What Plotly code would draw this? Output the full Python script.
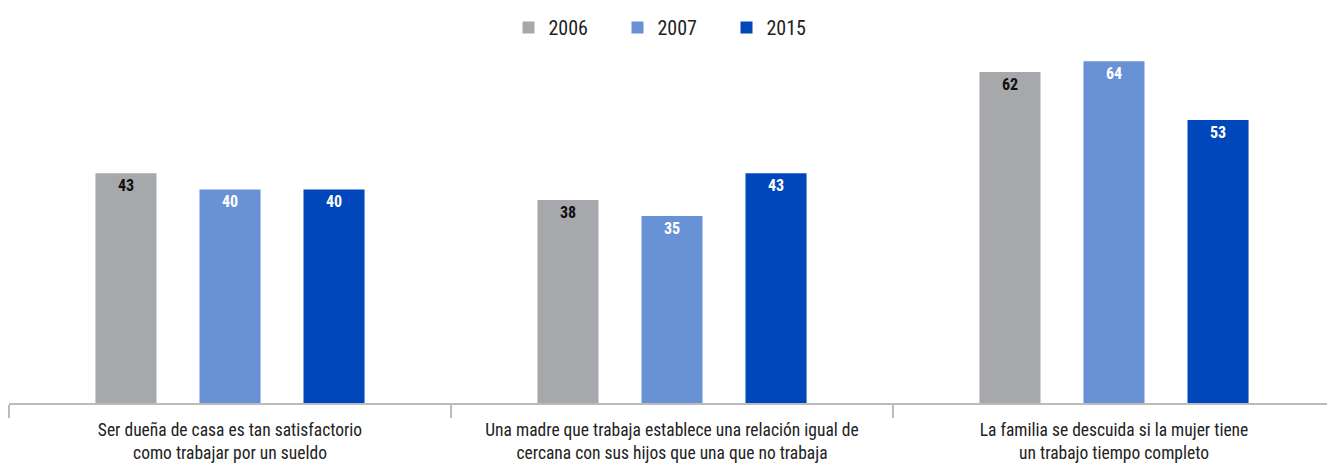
import plotly.graph_objects as go

categories = [
    "Ser dueña de casa es tan satisfactorio<br>como trabajar por un sueldo",
    "Una madre que trabaja establece una relación igual de<br>cercana con sus hijos que una que no trabaja",
    "La familia se descuida si la mujer tiene<br>un trabajo tiempo completo",
]
years = ["2006", "2007", "2015"]
v2006 = [43, 38, 62]
v2007 = [40, 35, 64]
v2015 = [40, 43, 53]

colors = ["#A7A8AC", "#6891D6", "#0047BB"]
textcolors = ["#111111", "#FFFFFF", "#FFFFFF"]
font = "Liberation Sans Narrow, Roboto Condensed, Arial Narrow, sans-serif"

fig = go.Figure()
for name, vals, c, tc in zip(years, [v2006, v2007, v2015], colors, textcolors):
    fig.add_trace(go.Bar(
        x=categories, y=vals, name=name,
        marker=dict(color=c, line=dict(width=0)),
        text=[str(v) for v in vals],
        textposition="inside", insidetextanchor="end",
        textfont=dict(family=font, size=16, color=tc, weight="bold"),
        textangle=0,
    ))

fig.update_layout(
    barmode="group", bargap=0.294, bargroupgap=0.413,
    width=1327, height=458,
    margin=dict(l=1, r=0, t=42, b=63, autoexpand=False),
    plot_bgcolor="white", paper_bgcolor="white",
    font=dict(family=font, size=18, color="#222222"),
    legend=dict(orientation="h", x=0.5, xanchor="center", y=1.0, yanchor="top",
                yref="container", font=dict(size=20, color="#222222"),
                entrywidth=64, traceorder="normal"),
    uniformtext=dict(minsize=10, mode="show"),
)
fig.update_xaxes(showline=True, linecolor="#BBBBBB", linewidth=2,
                 ticks="outside", tickson="boundaries", ticklen=13, tickcolor="#BBBBBB",
                 tickwidth=1.5, tickfont=dict(size=17.5, color="#222222"),
                 ticklabelstandoff=10, automargin=False)
fig.update_yaxes(range=[0, 66.1], showgrid=False, showticklabels=False, zeroline=False,
                 automargin=False)

fig.write_html("out.html")
